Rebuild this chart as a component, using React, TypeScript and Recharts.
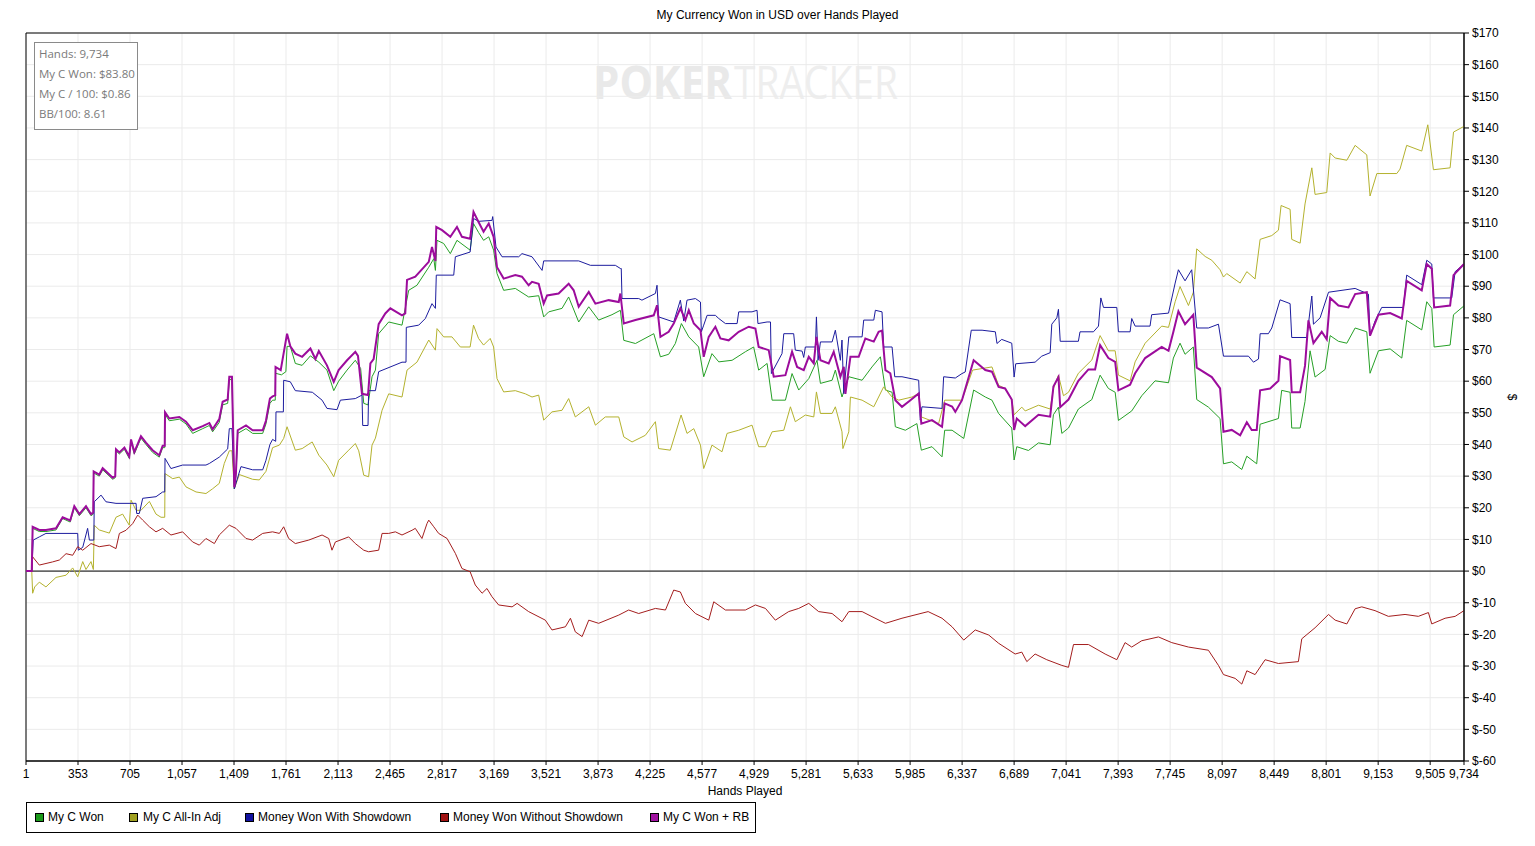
import React from 'react';
import { LineChart, Line, XAxis, YAxis, CartesianGrid, ReferenceLine, ReferenceArea } from 'recharts';

const HAND_TICKS = [1, 353, 705, 1057, 1409, 1761, 2113, 2465, 2817, 3169, 3521, 3873, 4225, 4577, 4929, 5281, 5633, 5985, 6337, 6689, 7041, 7393, 7745, 8097, 8449, 8801, 9153, 9505, 9734];
const DOLLAR_TICKS = [-60, -50, -40, -30, -20, -10, 0, 10, 20, 30, 40, 50, 60, 70, 80, 90, 100, 110, 120, 130, 140, 150, 160, 170];

const SERIES_NAMES = ['My C Won', 'My C All-In Adj', 'Money Won With Showdown', 'Money Won Without Showdown', 'My C Won + RB'];
const LINE_COLORS = ['#26a026', '#b4b22e', '#1c1c9e', '#a41e1e', '#9c0c9c'];
const LEGEND_COLORS = ['#1a9a1a', '#a0a020', '#1212a0', '#a01212', '#a012a0'];

const INFO_LINES = ['Hands: 9,734', 'My C Won: $83.80', 'My C / 100: $0.86', 'BB/100: 8.61'];

// [hand, dollars]
const myCWon: [number, number][] = [
  [1,0],[40,0],[46,13.5],[91,12.5],[136,12.5],[204,13],[249,16.6],[300,15.5],[328,20],[362,17.5],[407,20],[441,17.5],[456,18],[459,31],[497,30],[520,32],[588,29],[605,29.5],[610,38],[633,37],[667,38.5],[700,35.6],[712,41],[734,37],[779,42],[813,40],[858,37.5],[903,36],[926,39],[940,39],[942,49.5],[971,47.5],[1039,48],[1084,46.5],[1129,43.5],[1197,45],[1242,46],[1264,44],[1309,47],[1332,52.5],[1366,53],[1377,60.5],[1395,60.5],[1411,26],[1422,30],[1434,43.5],[1490,45],[1535,43.5],[1603,43.5],[1625,46.5],[1652,53],[1670,54],[1688,54],[1690,62.5],[1730,62],[1760,63],[1768,71],[1790,71],[1824,65.6],[1870,65],[1926,68],[1983,66],[2038,63.5],[2084,57],[2117,60],[2174,63.5],[2230,66.6],[2266,64],[2287,53],[2316,52.5],[2343,61.4],[2366,63.5],[2388,75],[2456,78.7],[2546,77.7],[2591,88.7],[2647,90.3],[2727,96],[2761,98.7],[2772,95],[2783,104.5],[2828,103.5],[2873,100.3],[2918,104.5],[3007,101.4],[3030,109.8],[3064,107],[3098,104.5],[3133,105.6],[3166,101.4],[3189,94],[3234,88.7],[3313,89.3],[3403,86.6],[3471,87],[3505,80.3],[3539,81.9],[3629,83],[3674,86.6],[3742,78.7],[3810,83.5],[3877,79.3],[3967,81],[4024,82.4],[4047,72.9],[4126,71.9],[4250,75],[4295,67.7],[4351,68.5],[4396,71.9],[4437,78.2],[4487,74],[4554,70.8],[4588,61.4],[4644,68.7],[4690,66.1],[4780,66.6],[4870,69.3],[4926,70.8],[4960,63.5],[5017,65.6],[5051,54],[5141,54],[5186,62.4],[5231,57.2],[5299,60.8],[5355,66.6],[5378,59.3],[5457,60.3],[5479,63.5],[5524,55],[5570,61.4],[5660,60.3],[5727,64.5],[5784,67.7],[5818,57.2],[5863,56.5],[5885,45.6],[5953,44.5],[6031,46.6],[6061,38.2],[6133,39.3],[6201,36.1],[6219,44.5],[6269,44.5],[6348,41.9],[6415,57.2],[6494,55],[6539,54],[6584,49.8],[6673,45.2],[6689,35.1],[6707,39.3],[6786,38.1],[6854,40.5],[6933,39.9],[6955,49.4],[6989,51.8],[7012,43.5],[7057,45.2],[7124,51.2],[7215,54.2],[7271,61.9],[7327,57.7],[7373,56.5],[7395,47.6],[7485,50.6],[7553,55.4],[7643,60.1],[7734,59.5],[7767,67.3],[7812,72],[7846,68.5],[7902,70.8],[7925,54.2],[8004,51.8],[8083,48.2],[8106,33.9],[8162,34.5],[8230,32.1],[8264,36.3],[8331,33.9],[8354,46.4],[8478,48.2],[8500,57.1],[8557,56.5],[8568,45.2],[8625,45.2],[8658,53.6],[8692,69.6],[8726,61.3],[8794,63.7],[8828,74.4],[8884,72.6],[8941,72],[8997,76.8],[9076,75.6],[9098,62.5],[9155,69.6],[9234,70.2],[9313,67.3],[9346,79.2],[9448,76.2],[9482,85.1],[9516,83],[9532,70.8],[9640,71.4],[9663,81],[9734,83.8],
];

const myCAllInAdj: [number, number][] = [
  [1,0],[40,0],[46,-7],[60,-5],[91,-3.5],[136,-5],[204,-2],[272,-1.3],[317,1],[351,-1.8],[385,3],[407,0.5],[441,3],[457,0.5],[463,14.5],[497,13],[565,12],[610,17],[655,18],[700,14.5],[712,22.4],[746,19.2],[779,19.2],[836,22],[881,18],[915,17],[940,17],[942,30.8],[994,29.2],[1039,29.7],[1084,26.6],[1152,25],[1219,24.5],[1264,26],[1309,27.7],[1343,34],[1377,38],[1395,38],[1411,26],[1445,30.5],[1535,29],[1580,28.8],[1625,31.5],[1670,39],[1716,39.8],[1745,41.9],[1768,45.6],[1824,38.2],[1870,38.7],[1938,40.8],[1983,36.6],[2038,33.5],[2084,29.8],[2117,35],[2185,38.2],[2230,40.3],[2253,38],[2287,30.3],[2320,29.8],[2343,39.8],[2366,42],[2411,50.8],[2456,56],[2546,55],[2580,63.5],[2647,66],[2727,73],[2772,69.8],[2783,76.6],[2828,74],[2884,74],[2941,70.8],[3007,70.8],[3030,77.7],[3064,73.5],[3098,71.4],[3143,73.5],[3166,70.8],[3189,60.8],[3234,56.6],[3313,57],[3381,56],[3426,55],[3471,55.6],[3505,47.7],[3561,50.3],[3629,50.8],[3674,54.5],[3719,48.7],[3810,51.9],[3855,46.1],[3922,48.7],[4013,48.7],[4047,42.4],[4103,40.8],[4193,42.9],[4261,47.2],[4283,38.7],[4362,38.2],[4435,49.3],[4475,43.5],[4521,45],[4566,39.8],[4588,32.4],[4644,39.8],[4712,37.7],[4746,43.5],[4825,44.5],[4915,46.1],[4960,39.3],[5006,39.3],[5051,44],[5130,44.5],[5175,51.9],[5208,47.2],[5276,49.3],[5333,48.7],[5351,56.6],[5378,49.8],[5457,49.8],[5479,51.9],[5524,44],[5530,38.7],[5570,44],[5581,55],[5660,54],[5739,51.9],[5772,55],[5806,58.2],[5863,55],[5908,54],[5998,55],[6043,56.1],[6061,48.7],[6178,46.6],[6219,54],[6336,54],[6408,63.5],[6539,64.5],[6584,58.7],[6628,57.7],[6673,54.2],[6689,49.4],[6741,51.8],[6764,50.6],[6854,52.4],[6933,51.2],[6955,57.7],[6989,61.9],[7023,55.4],[7057,56.5],[7124,62.5],[7215,66.7],[7271,74.4],[7327,69.6],[7373,69.6],[7395,61.9],[7474,60.1],[7508,66.1],[7576,72],[7688,77.4],[7734,77],[7779,85.1],[7812,89.9],[7869,83.9],[7902,88.1],[7925,101.8],[7982,99.4],[8027,98.2],[8083,95.2],[8106,92.9],[8128,94],[8219,91],[8264,94.6],[8320,92.3],[8354,104.8],[8433,106],[8478,107.7],[8496,115.5],[8557,114.3],[8568,104.8],[8625,103.6],[8658,116],[8704,127.4],[8726,119],[8805,119.6],[8828,132.1],[8862,130.5],[8941,129.8],[8997,134.5],[9076,131.5],[9098,118.5],[9144,125.6],[9279,125.6],[9301,127],[9346,134.5],[9448,132.7],[9489,141],[9527,126.8],[9640,127.4],[9663,138.7],[9734,140.5],
];

const wonWithShowdown: [number, number][] = [
  [1,0],[40,0],[50,9.8],[91,10.8],[136,11.9],[351,11.9],[355,6.6],[385,7.5],[418,13.5],[430,9.8],[460,9.8],[463,21.9],[509,24],[542,21.9],[610,21.4],[746,21.4],[750,18.2],[768,18.2],[791,23],[881,23.5],[926,25],[940,25],[942,35.6],[982,32.4],[1061,33.5],[1219,33.5],[1242,34],[1309,36],[1366,38.6],[1377,45],[1395,45],[1411,26],[1456,33],[1535,32],[1603,32],[1625,35],[1652,40],[1670,41.6],[1691,41],[1693,50.3],[1743,50.3],[1745,60.3],[1790,59.8],[1824,57],[1939,56.5],[2005,54],[2038,51.4],[2106,51],[2129,54],[2230,54.5],[2275,55.6],[2280,46],[2316,46],[2320,57],[2366,57],[2388,63],[2546,66],[2573,66],[2575,77],[2659,77.7],[2704,79.8],[2749,84.5],[2772,83],[2778,93.5],[2896,93.5],[2907,99.3],[3007,100.8],[3030,111.4],[3064,110.5],[3155,110.8],[3160,112],[3182,102.4],[3223,99.3],[3336,99.3],[3358,100.3],[3426,99.3],[3494,95],[3505,98],[3742,98],[3821,96.6],[3990,96.6],[4024,95.6],[4030,95.6],[4035,86.1],[4148,86.1],[4170,85.6],[4261,87.7],[4272,90.3],[4283,80.3],[4385,78.7],[4430,85.6],[4453,79],[4475,85.6],[4532,86.1],[4566,85],[4572,75.6],[4588,77.7],[4611,80.8],[4667,80.8],[4690,79.8],[4735,78.2],[4814,78.2],[4825,81.9],[4915,81.9],[4949,82.4],[4955,78.2],[5017,78.7],[5040,78.7],[5046,62.4],[5118,68.7],[5130,75],[5197,75],[5208,69.8],[5254,69.5],[5265,67.5],[5276,70.8],[5344,70.8],[5351,80.3],[5362,66.6],[5378,72.4],[5457,72.4],[5479,76.1],[5513,66.6],[5524,73],[5536,56.1],[5570,74],[5660,74],[5671,79.3],[5739,79.3],[5750,82.4],[5795,81.9],[5806,70.8],[5863,70.8],[5881,61.4],[5930,61.4],[6043,60.3],[6054,47.7],[6065,51.9],[6201,51.4],[6212,61.4],[6291,61],[6336,62.4],[6358,62.9],[6399,76.1],[6472,76.1],[6562,75.6],[6573,71.9],[6605,73.2],[6673,72],[6689,61.3],[6700,65.5],[6831,66],[6876,67.9],[6933,69],[6944,78],[6978,80],[6989,82.7],[7001,72.6],[7124,72.6],[7135,75.6],[7226,75.6],[7260,77.4],[7276,86.3],[7294,83.3],[7384,83.3],[7395,75.6],[7474,75.6],[7485,79.8],[7508,77.4],[7609,77.4],[7620,81],[7734,81.5],[7779,91],[7801,95.2],[7846,91.7],[7891,95.2],[7925,76.8],[8004,76.8],[8072,78],[8106,67.9],[8275,67.9],[8309,66],[8343,67],[8354,75],[8410,75],[8433,76.8],[8489,85.7],[8557,84.5],[8568,73.8],[8670,73.8],[8704,86.9],[8715,78],[8760,80],[8817,88.1],[8997,89.3],[9087,87.5],[9098,74.4],[9132,79],[9177,83.3],[9324,83.3],[9346,93.5],[9448,90.5],[9482,98.2],[9516,97],[9527,86.3],[9651,86.3],[9674,94.6],[9734,97],
];

const wonWithoutShowdown: [number, number][] = [
  [1,0],[40,0],[46,4.5],[91,1.9],[181,2.9],[227,3.5],[272,5.5],[317,5],[351,7.7],[385,6.6],[441,8.7],[497,7.7],[565,8.2],[610,7.1],[633,11.9],[678,12.9],[723,15],[757,17.7],[791,16.1],[836,14],[881,12.4],[926,13.5],[982,11.4],[1061,12.4],[1129,9.2],[1174,8.2],[1219,10.3],[1276,8.7],[1309,11.4],[1377,14.5],[1422,13.5],[1490,10.3],[1535,9.8],[1603,11.9],[1670,12.4],[1716,11.9],[1745,14],[1779,10.3],[1824,8.7],[1915,9.8],[2005,11.4],[2050,10.3],[2072,6.6],[2095,9.2],[2185,10.8],[2230,8.7],[2287,6.6],[2320,6.1],[2388,6.6],[2411,11.9],[2456,11.9],[2501,12.4],[2546,11.4],[2614,12.9],[2636,13.5],[2681,10.3],[2715,15],[2727,16.1],[2761,14],[2794,11.9],[2851,10.3],[2907,5.6],[2952,0.8],[3007,-0.2],[3042,-4.4],[3088,-7],[3121,-5.5],[3155,-8.1],[3200,-10.7],[3291,-11.3],[3325,-10.2],[3403,-12.8],[3516,-15.5],[3561,-18.6],[3652,-17.6],[3686,-14.9],[3719,-19.2],[3765,-20.7],[3810,-15.5],[3877,-16.5],[4013,-13.9],[4080,-12.3],[4148,-13.4],[4261,-11.8],[4329,-12.3],[4385,-6],[4430,-6.6],[4464,-10.2],[4532,-13.4],[4622,-15.5],[4656,-9.7],[4735,-12.3],[4870,-12.3],[4938,-10.7],[5006,-11.8],[5073,-15.5],[5163,-12.8],[5231,-11.8],[5299,-10.2],[5366,-12.8],[5457,-13.4],[5524,-16],[5570,-12.8],[5660,-12.8],[5727,-14.4],[5818,-16.5],[5930,-14.9],[6107,-12.8],[6201,-14.9],[6269,-17.6],[6348,-21.8],[6426,-18.6],[6517,-20.2],[6584,-22.8],[6696,-26.2],[6741,-25.6],[6775,-28.6],[6831,-26.2],[6910,-28],[7012,-29.8],[7057,-30.4],[7091,-23.2],[7192,-23.2],[7305,-26.2],[7384,-28],[7440,-22.6],[7485,-24],[7553,-22],[7666,-20.8],[7756,-22.6],[7869,-24],[8004,-25],[8072,-29.8],[8106,-32.7],[8185,-33.9],[8230,-35.7],[8264,-31.5],[8320,-32.7],[8388,-28],[8478,-29.2],[8613,-28.6],[8636,-21.4],[8726,-17.9],[8817,-13.7],[8862,-15.5],[8941,-16.7],[8997,-11.9],[9042,-11.3],[9132,-12.5],[9222,-14.3],[9335,-13.7],[9425,-14.3],[9493,-13.1],[9516,-16.7],[9606,-14.9],[9674,-14.3],[9734,-12.5],
];

const myCWonRB: [number, number][] = [
  [1,0],[40,0],[46,14],[91,13],[136,13],[204,13.5],[249,17],[300,16],[328,20.5],[362,18],[407,20.5],[441,18],[456,18.5],[459,31.5],[497,30.5],[520,32.5],[588,29.5],[605,30],[610,38.5],[633,37.5],[667,39],[700,36.2],[712,41.6],[734,37.6],[779,42.6],[813,40.6],[858,38.2],[903,36.6],[926,39.6],[940,39.6],[942,50.2],[971,48.2],[1039,48.7],[1084,47.2],[1129,44.5],[1197,45.8],[1242,46.8],[1264,44.8],[1309,48],[1332,53.5],[1366,54.2],[1377,61.4],[1395,61.4],[1411,26.5],[1422,31],[1434,44.5],[1490,46],[1535,44.5],[1603,44.5],[1625,47.5],[1652,54.5],[1670,55.2],[1688,55.5],[1690,64.5],[1725,63.5],[1768,75],[1790,71],[1824,68.7],[1870,67.7],[1926,70.3],[1960,67],[1983,69.5],[2038,65],[2084,59.8],[2117,63.5],[2174,66.6],[2230,69.3],[2248,68],[2275,56],[2316,55.6],[2332,65.6],[2354,67],[2388,78],[2433,81.4],[2467,83],[2546,80.8],[2568,81.4],[2580,92],[2636,93],[2727,97.7],[2749,102.4],[2772,98],[2778,108.7],[2817,107.7],[2873,105.6],[2918,108.7],[2952,105.6],[3007,105],[3030,113.5],[3064,110.3],[3098,107.2],[3133,109.8],[3166,105.6],[3189,96],[3234,92.4],[3313,93.5],[3358,93],[3403,90.3],[3426,91.4],[3471,90.8],[3505,84.5],[3528,87.1],[3606,87.7],[3674,90.8],[3708,88.7],[3742,83.5],[3810,88.2],[3855,84.5],[3945,85.6],[4013,85],[4024,87.7],[4047,78.2],[4126,79.3],[4250,80.8],[4272,84],[4295,74],[4351,75.6],[4385,78.2],[4430,83],[4464,79.3],[4487,82.4],[4521,78.2],[4566,76.1],[4588,67.7],[4622,74],[4667,77.2],[4701,73.5],[4757,72.9],[4825,75.6],[4893,77.2],[4938,76.6],[4960,70.8],[5028,69.8],[5062,61.4],[5141,61.9],[5186,69.3],[5220,64.5],[5265,63.5],[5299,67.7],[5333,65.6],[5351,74],[5378,66.6],[5434,65.6],[5468,69.3],[5513,61.4],[5536,64.5],[5547,56],[5581,67.7],[5637,67.7],[5682,73.5],[5739,72.5],[5772,75.6],[5795,76],[5818,63.5],[5851,62.5],[5885,54],[5930,51.9],[5987,54],[6043,56.1],[6061,46.6],[6133,47.7],[6201,45.6],[6219,53],[6269,52],[6291,50.3],[6336,54],[6415,66.6],[6494,63.5],[6539,63],[6584,58.2],[6628,57.7],[6673,54.2],[6689,44.6],[6707,48.2],[6764,45.8],[6854,49.4],[6933,48.8],[6955,58.3],[6989,61.3],[7001,51.8],[7057,54.2],[7124,60.1],[7192,63.7],[7237,63.7],[7271,71.4],[7327,67.3],[7373,66.1],[7395,57.1],[7474,58.9],[7508,62.5],[7576,67.3],[7688,70.8],[7734,69.6],[7767,75.6],[7801,82.1],[7846,78],[7902,81],[7925,64.3],[8027,61.3],[8083,57.7],[8106,44],[8162,44.6],[8219,42.9],[8264,47],[8297,44.6],[8331,44.6],[8354,57.1],[8422,57.7],[8478,60.1],[8489,67.9],[8557,66.7],[8568,56.5],[8625,56.5],[8658,64.9],[8681,79.2],[8715,72],[8771,75.6],[8805,73.2],[8828,86.3],[8884,83.9],[8952,83.3],[8997,87.5],[9076,88.1],[9098,74.4],[9155,81],[9234,81.5],[9313,79.8],[9346,91.7],[9448,88.7],[9482,97],[9516,95.5],[9532,83.3],[9640,83.9],[9663,93.5],[9734,97],
];

const SERIES = [myCWon, myCAllInAdj, wonWithShowdown, wonWithoutShowdown, myCWonRB];

const toPoints = (arr: [number, number][]) => arr.map(([h, v]) => ({ h, v }));

const LEGEND_POS = [
  { sq: 35, tx: 48 },
  { sq: 129, tx: 143 },
  { sq: 245, tx: 258 },
  { sq: 440, tx: 453 },
  { sq: 650, tx: 663 },
];

const FONT = '"Liberation Sans", Arial, sans-serif';

const fmtHands = (v: number) => v.toLocaleString('en-US');
const fmtDollar = (v: number) => (v < 0 ? `$-${-v}` : `$${v}`);

export default function App() {
  return (
    <div style={{ position: 'absolute', left: 0, top: 0, width: 1535, height: 846, background: '#fff', fontFamily: FONT, overflow: 'hidden' }}>
      <svg width={1535} height={846} style={{ position: 'absolute', left: 0, top: 0 }}>
        <text x={593} y={99} fontFamily='"Open Sans", "Liberation Sans", sans-serif' fontWeight={700} fontSize={46} fill="#e9e9e9" textLength={139} lengthAdjust="spacingAndGlyphs">POKER</text>
        <text x={734} y={99} fontFamily='"Open Sans", "Liberation Sans", sans-serif' fontWeight={400} fontSize={46} fill="#eeeeee" textLength={164} lengthAdjust="spacingAndGlyphs">TRACKER</text>
      </svg>
      <LineChart width={1535} height={846} margin={{ top: 33, right: 11, bottom: 55, left: 26 }}>
        <CartesianGrid stroke="#ebebeb" strokeWidth={1} />
        <XAxis
          dataKey="h"
          type="number"
          domain={[1, 9734]}
          ticks={HAND_TICKS}
          interval={0}
          allowDataOverflow
          tickFormatter={fmtHands}
          tick={{ fill: '#000', fontSize: 12, fontFamily: FONT }}
          tickSize={4}
          tickMargin={4}
          height={30}
          axisLine={{ stroke: '#000' }}
          tickLine={{ stroke: '#000' }}
        />
        <YAxis
          orientation="right"
          type="number"
          domain={[-60, 170]}
          ticks={DOLLAR_TICKS}
          interval={0}
          allowDataOverflow
          tickFormatter={fmtDollar}
          tick={{ fill: '#000', fontSize: 12, fontFamily: FONT }}
          tickSize={5}
          tickMargin={3}
          width={60}
          axisLine={{ stroke: '#000' }}
          tickLine={{ stroke: '#000' }}
        />
        <ReferenceLine y={0} stroke="#000" strokeWidth={1} />
        {SERIES.map((s, i) => (
          <Line
            key={SERIES_NAMES[i]}
            name={SERIES_NAMES[i]}
            data={toPoints(s)}
            dataKey="v"
            type="linear"
            stroke={LINE_COLORS[i]}
            strokeWidth={i === 4 ? 2 : 1}
            dot={false}
            activeDot={false}
            isAnimationActive={false}
          />
        ))}
        <ReferenceArea x1={1} x2={9734} y1={-60} y2={170} fill="#fff" fillOpacity={0} stroke="#000" strokeWidth={1} />
      </LineChart>

      <div style={{ position: 'absolute', left: 0, top: 8, width: 1555, textAlign: 'center', fontSize: 12, lineHeight: '14px', color: '#000' }}>
        My Currency Won in USD over Hands Played
      </div>

      <div style={{ position: 'absolute', left: 34, top: 42, width: 104, height: 88, boxSizing: 'border-box', border: '1px solid #8a8a8a', background: '#fff' }}>
        {INFO_LINES.map((t, i) => (
          <div key={t} style={{ position: 'absolute', left: 4, top: 3 + i * 20, fontFamily: '"Open Sans", sans-serif', fontSize: 11.5, lineHeight: '16px', color: '#7a7a7a', whiteSpace: 'nowrap' }}>{t}</div>
        ))}
      </div>

      <div style={{ position: 'absolute', left: 645, top: 784, width: 200, textAlign: 'center', fontSize: 12, lineHeight: '14px', color: '#000' }}>Hands Played</div>

      <div style={{ position: 'absolute', left: 1505, top: 390, width: 14, height: 14, fontSize: 12, lineHeight: '14px', textAlign: 'center', transform: 'rotate(90deg)', color: '#000' }}>$</div>

      <div style={{ position: 'absolute', left: 26, top: 802, width: 730, height: 31, boxSizing: 'border-box', border: '1px solid #000', background: '#fff' }} />
      {SERIES_NAMES.map((n, i) => (
        <React.Fragment key={n}>
          <div style={{ position: 'absolute', left: LEGEND_POS[i].sq, top: 813, width: 9, height: 9, boxSizing: 'border-box', border: '1px solid #000', background: LEGEND_COLORS[i] }} />
          <div style={{ position: 'absolute', left: LEGEND_POS[i].tx, top: 810, fontSize: 12, lineHeight: '14px', color: '#000', whiteSpace: 'nowrap' }}>{n}</div>
        </React.Fragment>
      ))}
    </div>
  );
}
